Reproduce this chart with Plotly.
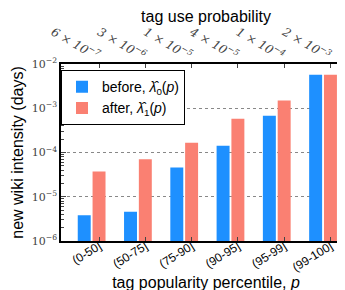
import plotly.graph_objects as go

categories = ["(0-50]", "(50-75]", "(75-90]", "(90-95]", "(95-99]", "(99-100]"]
top_labels = ["6 × 10<sup>−7</sup>", "3 × 10<sup>−6</sup>", "1 × 10<sup>−5</sup>",
              "4 × 10<sup>−5</sup>", "1 × 10<sup>−4</sup>", "2 × 10<sup>−3</sup>"]
before = [3.8e-6, 4.6e-6, 4.6e-5, 1.43e-4, 6.8e-4, 5.75e-3]
after = [3.7e-5, 7.0e-5, 1.67e-4, 5.8e-4, 1.49e-3, 5.75e-3]
ytick_vals = [1e-6, 1e-5, 1e-4, 1e-3, 1e-2]
ytick_text = ["10<sup>−6</sup>", "10<sup>−5</sup>", "10<sup>−4</sup>", "10<sup>−3</sup>", "10<sup>−2</sup>"]

pos = list(range(len(categories)))

fig = go.Figure()
fig.add_trace(go.Bar(x=pos, y=before, width=0.28, offset=-0.46,
                     marker=dict(color="#1E90FF", line=dict(width=0)),
                     name="before, <i>λ̂</i><sub>0</sub>(<i>p</i>)"))
fig.add_trace(go.Bar(x=pos, y=after, width=0.28, offset=-0.14,
                     marker=dict(color="#FA8072", line=dict(width=0)),
                     name="after, <i>λ̂</i><sub>1</sub>(<i>p</i>)"))
fig.add_trace(go.Scatter(x=pos, y=after, xaxis="x2", mode="markers",
                         marker=dict(opacity=0), showlegend=False, hoverinfo="skip"))

xr = [-0.822, 5.444]
fig.update_layout(
    width=345, height=290,
    margin=dict(l=53, r=0, t=56, b=57),
    paper_bgcolor="white", plot_bgcolor="white",
    font=dict(family="Liberation Sans, Arial, sans-serif", color="black"),
    barmode="overlay",
    showlegend=True,
    legend=dict(x=0.0, y=0.965, xanchor="left", yanchor="top",
                bordercolor="black", borderwidth=1, bgcolor="white",
                font=dict(size=14), tracegroupgap=6, itemwidth=30),
    xaxis=dict(range=xr, tickmode="array", tickvals=pos, ticktext=categories,
               tickangle=-32, tickfont=dict(size=12), ticks="inside", ticklen=4,
               ticklabelstandoff=-8,
               showline=True, linecolor="black", linewidth=1.5, mirror=False,
               showgrid=False, zeroline=False,
               title=dict(text="tag popularity percentile, <i>p</i>", font=dict(size=16), standoff=3)),
    xaxis2=dict(range=xr, overlaying="x", side="top", tickmode="array", tickvals=pos,
                ticktext=top_labels, tickangle=30, ticklabelstandoff=-4,
                tickfont=dict(size=12, family="DejaVu Serif, serif", color="#444", style="italic"),
                ticks="inside", ticklen=4, showline=True, linecolor="black", linewidth=1.5,
                showgrid=False, zeroline=False,
                title=dict(text="tag use probability", font=dict(size=16), standoff=2)),
    yaxis=dict(type="log", range=[-6, -2], tickmode="array", tickvals=ytick_vals,
               ticktext=ytick_text, tickfont=dict(size=11, family="DejaVu Serif, serif", color="#444"),
               ticks="inside", ticklen=5, showline=True, linecolor="black", linewidth=1.5,
               mirror=True, showgrid=True, gridcolor="#888", griddash="dot", gridwidth=1,
               zeroline=False,
               minor=dict(ticks="inside", ticklen=3, tickvals=[k * 10 ** e for e in range(-6, -2) for k in range(2, 10)], showgrid=False),
               title=dict(text="new wiki intensity (days)", font=dict(size=16), standoff=4)),
)

fig.write_html("out.html")
